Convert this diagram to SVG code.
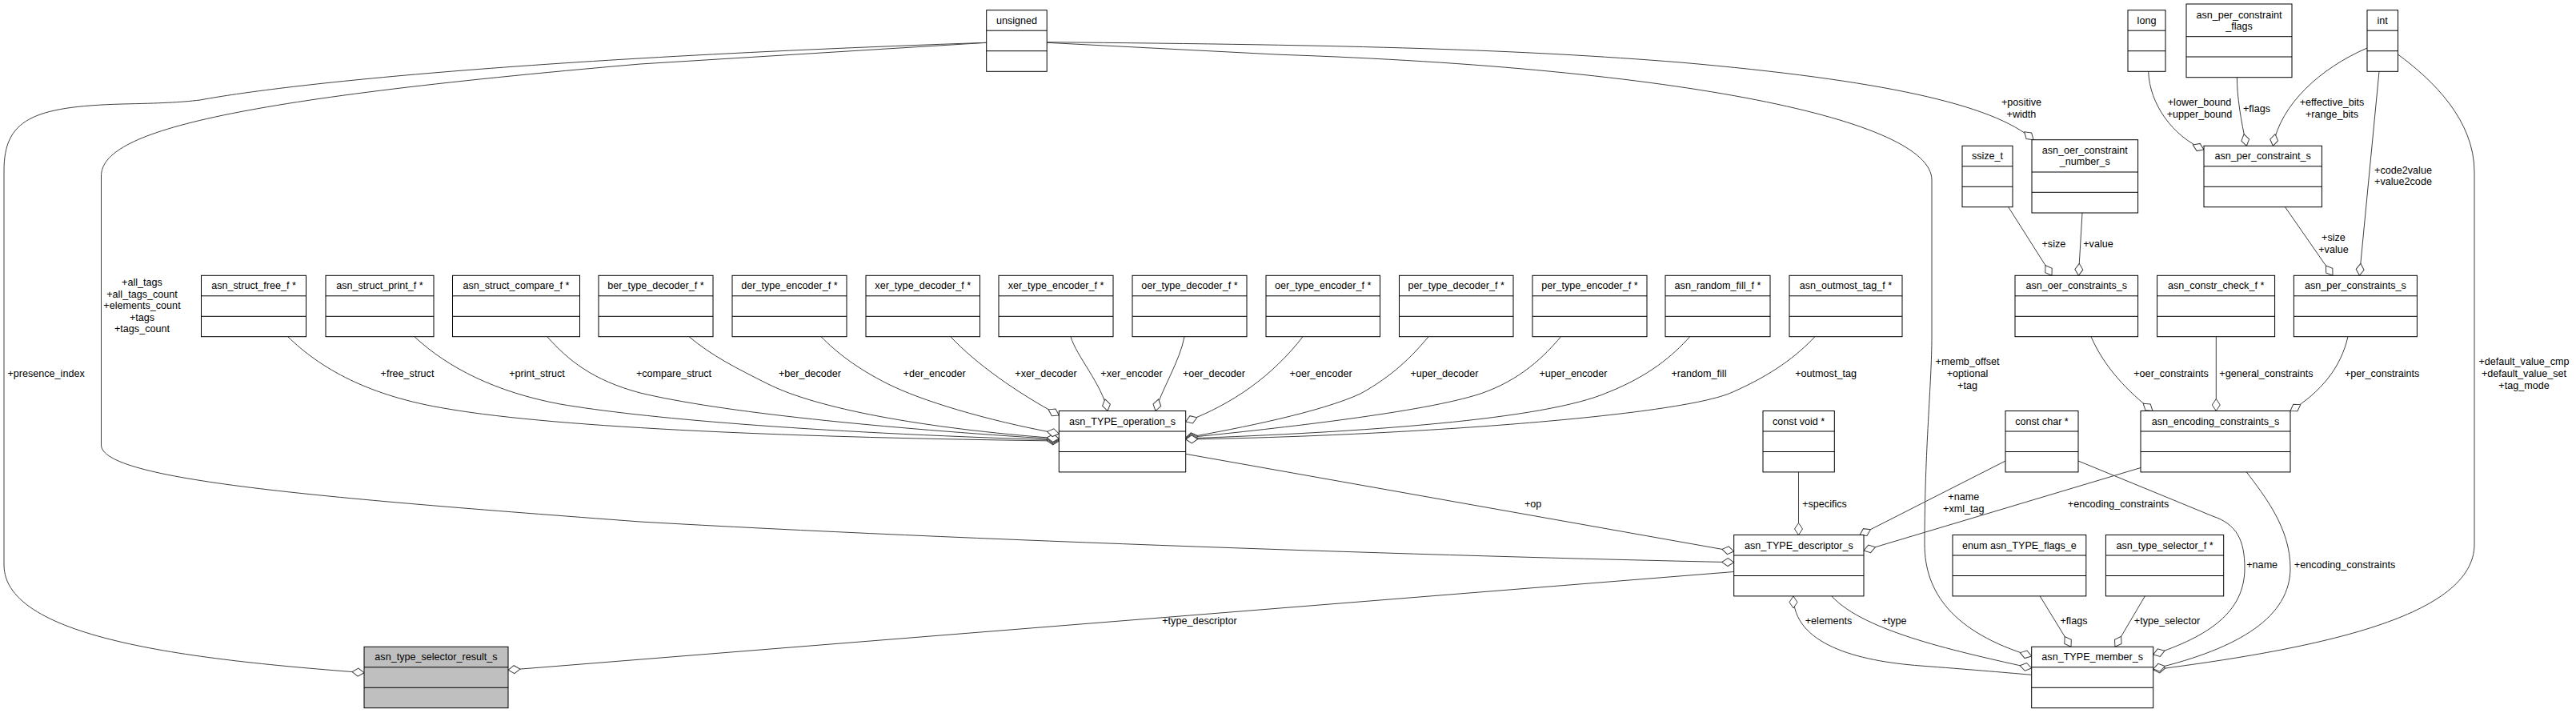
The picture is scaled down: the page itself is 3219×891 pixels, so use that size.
<svg xmlns="http://www.w3.org/2000/svg" width="3219" height="891" viewBox="0 0 3219 891">
<style>
text{font-family:"Liberation Sans",Arial,Helvetica,sans-serif;font-size:12.6px;text-anchor:middle;fill:#000}
.n rect{fill:#fff;stroke:#000;stroke-width:1}
.n line{stroke:#000;stroke-width:1}
.n.hl rect{fill:#bfbfbf}
.e path{fill:none;stroke:#404040;stroke-width:1;marker-start:url(#od)}
</style>
<defs>
<marker id="od" viewBox="-1 -6 17 12" refX="0" refY="0" markerWidth="17" markerHeight="12" markerUnits="userSpaceOnUse" orient="auto">
<path d="M0,0 L7.5,-5 L15,0 L7.5,5 Z" fill="#fff" stroke="#404040" stroke-width="1"/>
</marker>
</defs>
<rect x="0" y="0" width="3219" height="891" fill="#fff"/>

<g id="connectors" class="e">
<path d="M455,840.7 C250,825 5,800 5,706 L5,213 C5,150 40,133 153,130 C200,129 225,128 250,125 C330,110 600,75 1232.7,53.3"/>
<path d="M2166.7,702.7 C1800,695 1200,675 800,652 C400,622 126.5,600 126.5,556 L126.5,220 C126.5,165 280,125 800,80 L1232.7,53.3"/>
<path d="M2166.7,689 L1481.7,567.3"/>
<path d="M635,837.3 L2166.7,714.5"/>
<path d="M2247.5,668.5 L2247.5,590"/>
<path d="M2324,668.5 L2506,576"/>
<path d="M2329,688 L2675,584.5"/>
<path d="M2241,745 C2241,805 2320,826 2400,832 C2460,836.5 2500,840 2538.7,843.3"/>
<path d="M2538.7,835 C2450,815 2330,790 2288.8,744.9"/>
<path d="M2538.7,820 C2440,790 2405,740 2405,680 C2405,560 2414,480 2414,420 L2414,225 C2414,150 2100,85 1600,68.3 L1308.2,53.3"/>
<path d="M2541,174.7 C2490,130 2350,100 2100,78 C1900,62 1700,56 1308.2,52.7"/>
<path d="M2564,344.3 L2509.7,258.7"/>
<path d="M2597.4,344.3 L2602,266"/>
<path d="M2754,187 C2715,170 2686,130 2684.7,89.3"/>
<path d="M2807.4,182.3 C2800,150 2795.4,120 2795.4,96.7"/>
<path d="M2840.3,182.3 C2850,130 2900,85 2958,60"/>
<path d="M2915,344.3 L2855.5,258.7"/>
<path d="M2948.4,344.3 L2973,89.3"/>
<path d="M2690.7,837 C2900,810 3092,770 3092,680 L3092,215 C3092,150 3040,100 2996.5,68"/>
<path d="M2690,513.5 C2660,490 2630,460 2613,420.7"/>
<path d="M2769.3,513.5 L2769.3,420.7"/>
<path d="M2862,513.5 C2900,490 2925,460 2934,420.7"/>
<path d="M2690.7,818 C2760,795 2805,765 2805,710 C2805,675 2795,655 2765,645 L2597,576"/>
<path d="M2690.7,836 C2800,810 2862,770 2862,710 C2862,660 2830,620 2807.4,590"/>
<path d="M2588,808.3 L2549,744.7"/>
<path d="M2643,808.3 L2680.5,744.7"/>
<path d="M1323.3,551 C1000,547 700,535 560,511 C460,495 400,460 359.7,420.7"/>
<path d="M1323.3,550 C1000,540 800,522 700,505 C620,490 560,460 517.9,420.7"/>
<path d="M1323.3,549 C1100,535 900,515 800,491 C740,475 710,450 683.7,420.7"/>
<path d="M1323.3,548 C1150,535 1020,510 960,480 C920,460 890,445 861,420.7"/>
<path d="M1323.3,542 C1230,525 1150,500 1110,480 C1070,460 1045,440 1026,420.7"/>
<path d="M1323.3,519 C1270,490 1220,455 1187.8,420.7"/>
<path d="M1384,513.5 C1377,480 1345,445 1338,420.7"/>
<path d="M1444,513.5 C1450,490 1475,450 1480,420.7"/>
<path d="M1481.7,527 C1540,505 1590,470 1628,420.7"/>
<path d="M1481.7,547 C1550,535 1650,515 1700,492 C1740,470 1765,445 1785,420.7"/>
<path d="M1481.7,547 C1600,535 1780,515 1850,492 C1900,475 1930,445 1950.5,420.7"/>
<path d="M1481.7,548 C1700,540 1930,525 2010,490 C2060,470 2090,445 2111.7,420.7"/>
<path d="M1481.7,549 C1750,545 2100,520 2165,490 C2215,468 2245,445 2268,420.7"/>
<text x="57.6" y="471">+presence_index</text>
<text x="177.5" y="357">+all_tags</text>
<text x="177.5" y="371.6">+all_tags_count</text>
<text x="177.5" y="386.2">+elements_count</text>
<text x="177.5" y="400.8">+tags</text>
<text x="177.5" y="415.4">+tags_count</text>
<text x="509" y="471">+free_struct</text>
<text x="671" y="471">+print_struct</text>
<text x="842" y="471">+compare_struct</text>
<text x="1012" y="471">+ber_decoder</text>
<text x="1167.6" y="471">+der_encoder</text>
<text x="1307" y="471">+xer_decoder</text>
<text x="1414" y="471">+xer_encoder</text>
<text x="1517" y="471">+oer_decoder</text>
<text x="1650.6" y="471">+oer_encoder</text>
<text x="1805" y="471">+uper_decoder</text>
<text x="1966" y="471">+uper_encoder</text>
<text x="2123" y="471">+random_fill</text>
<text x="2281.6" y="471">+outmost_tag</text>
<text x="1915.6" y="633.5">+op</text>
<text x="2280" y="633.5">+specifics</text>
<text x="1499" y="780">+type_descriptor</text>
<text x="2285" y="780">+elements</text>
<text x="2367" y="780">+type</text>
<text x="2526" y="132">+positive</text>
<text x="2526" y="146.6">+width</text>
<text x="2748.5" y="132">+lower_bound</text>
<text x="2748.5" y="146.6">+upper_bound</text>
<text x="2820" y="139.5">+flags</text>
<text x="2914" y="132">+effective_bits</text>
<text x="2914" y="146.6">+range_bits</text>
<text x="3003" y="216.7">+code2value</text>
<text x="3003" y="231.3">+value2code</text>
<text x="2566.4" y="308.7">+size</text>
<text x="2622" y="308.7">+value</text>
<text x="2916" y="301">+size</text>
<text x="2916" y="316">+value</text>
<text x="2458.5" y="456">+memb_offset</text>
<text x="2458.5" y="471">+optional</text>
<text x="2458.5" y="486">+tag</text>
<text x="2713" y="471">+oer_constraints</text>
<text x="2832" y="471">+general_constraints</text>
<text x="2976.7" y="471">+per_constraints</text>
<text x="3154" y="456">+default_value_cmp</text>
<text x="3154" y="471">+default_value_set</text>
<text x="3154" y="486">+tag_mode</text>
<text x="2453.8" y="625.4">+name</text>
<text x="2453.8" y="640">+xml_tag</text>
<text x="2647" y="633.5">+encoding_constraints</text>
<text x="2826.7" y="710.4">+name</text>
<text x="2930" y="710.4">+encoding_constraints</text>
<text x="2591.5" y="780">+flags</text>
<text x="2708" y="780">+type_selector</text>
</g>

<g id="n_unsigned" class="n"><rect x="1232.7" y="12.7" width="75.5" height="76.6"/><line x1="1232.7" y1="38.2" x2="1308.2" y2="38.2"/><line x1="1232.7" y1="63.7" x2="1308.2" y2="63.7"/><text x="1270.5" y="29.8">unsigned</text></g>
<g id="n_long" class="n"><rect x="2659" y="12.7" width="47" height="76.6"/><line x1="2659" y1="38.2" x2="2706" y2="38.2"/><line x1="2659" y1="63.7" x2="2706" y2="63.7"/><text x="2682.5" y="29.8">long</text></g>
<g id="n_per_constraint_flags" class="n"><rect x="2732" y="5" width="132" height="91.7"/><line x1="2732" y1="45.7" x2="2864" y2="45.7"/><line x1="2732" y1="71" x2="2864" y2="71"/><text x="2798" y="22.8">asn_per_constraint</text><text x="2798" y="37.4">_flags</text></g>
<g id="n_int" class="n"><rect x="2958" y="12.7" width="38.5" height="76.6"/><line x1="2958" y1="38.2" x2="2996.5" y2="38.2"/><line x1="2958" y1="63.7" x2="2996.5" y2="63.7"/><text x="2977.2" y="29.8">int</text></g>
<g id="n_ssize_t" class="n"><rect x="2452" y="182.3" width="63" height="76.4"/><line x1="2452" y1="207.8" x2="2515" y2="207.8"/><line x1="2452" y1="233.3" x2="2515" y2="233.3"/><text x="2483.5" y="199.4">ssize_t</text></g>
<g id="n_oer_constraint_number_s" class="n"><rect x="2539" y="174.7" width="132.6" height="91.3"/><line x1="2539" y1="215" x2="2671.6" y2="215"/><line x1="2539" y1="240.3" x2="2671.6" y2="240.3"/><text x="2605.3" y="191.8">asn_oer_constraint</text><text x="2605.3" y="206.3">_number_s</text></g>
<g id="n_per_constraint_s" class="n"><rect x="2754" y="182.3" width="147.4" height="76.4"/><line x1="2754" y1="207.8" x2="2901.4" y2="207.8"/><line x1="2754" y1="233.3" x2="2901.4" y2="233.3"/><text x="2827.7" y="199.4">asn_per_constraint_s</text></g>

<g id="n_struct_free" class="n"><rect x="251.5" y="344.3" width="131" height="76.4"/><line x1="251.5" y1="369.8" x2="382.5" y2="369.8"/><line x1="251.5" y1="395.3" x2="382.5" y2="395.3"/><text x="317" y="361.4">asn_struct_free_f *</text></g>
<g id="n_struct_print" class="n"><rect x="407" y="344.3" width="135" height="76.4"/><line x1="407" y1="369.8" x2="542" y2="369.8"/><line x1="407" y1="395.3" x2="542" y2="395.3"/><text x="474.5" y="361.4">asn_struct_print_f *</text></g>
<g id="n_struct_compare" class="n"><rect x="565.5" y="344.3" width="159" height="76.4"/><line x1="565.5" y1="369.8" x2="724.5" y2="369.8"/><line x1="565.5" y1="395.3" x2="724.5" y2="395.3"/><text x="645" y="361.4">asn_struct_compare_f *</text></g>
<g id="n_ber_decoder" class="n"><rect x="748" y="344.3" width="143" height="76.4"/><line x1="748" y1="369.8" x2="891" y2="369.8"/><line x1="748" y1="395.3" x2="891" y2="395.3"/><text x="819.5" y="361.4">ber_type_decoder_f *</text></g>
<g id="n_der_encoder" class="n"><rect x="915" y="344.3" width="143" height="76.4"/><line x1="915" y1="369.8" x2="1058" y2="369.8"/><line x1="915" y1="395.3" x2="1058" y2="395.3"/><text x="986.5" y="361.4">der_type_encoder_f *</text></g>
<g id="n_xer_decoder" class="n"><rect x="1082" y="344.3" width="142.5" height="76.4"/><line x1="1082" y1="369.8" x2="1224.5" y2="369.8"/><line x1="1082" y1="395.3" x2="1224.5" y2="395.3"/><text x="1153.2" y="361.4">xer_type_decoder_f *</text></g>
<g id="n_xer_encoder" class="n"><rect x="1248" y="344.3" width="143" height="76.4"/><line x1="1248" y1="369.8" x2="1391" y2="369.8"/><line x1="1248" y1="395.3" x2="1391" y2="395.3"/><text x="1319.5" y="361.4">xer_type_encoder_f *</text></g>
<g id="n_oer_decoder" class="n"><rect x="1415" y="344.3" width="143" height="76.4"/><line x1="1415" y1="369.8" x2="1558" y2="369.8"/><line x1="1415" y1="395.3" x2="1558" y2="395.3"/><text x="1486.5" y="361.4">oer_type_decoder_f *</text></g>
<g id="n_oer_encoder" class="n"><rect x="1582" y="344.3" width="142.5" height="76.4"/><line x1="1582" y1="369.8" x2="1724.5" y2="369.8"/><line x1="1582" y1="395.3" x2="1724.5" y2="395.3"/><text x="1653.2" y="361.4">oer_type_encoder_f *</text></g>
<g id="n_per_decoder" class="n"><rect x="1748.5" y="344.3" width="142.5" height="76.4"/><line x1="1748.5" y1="369.8" x2="1891" y2="369.8"/><line x1="1748.5" y1="395.3" x2="1891" y2="395.3"/><text x="1819.7" y="361.4">per_type_decoder_f *</text></g>
<g id="n_per_encoder" class="n"><rect x="1915" y="344.3" width="143" height="76.4"/><line x1="1915" y1="369.8" x2="2058" y2="369.8"/><line x1="1915" y1="395.3" x2="2058" y2="395.3"/><text x="1986.5" y="361.4">per_type_encoder_f *</text></g>
<g id="n_random_fill" class="n"><rect x="2081" y="344.3" width="131" height="76.4"/><line x1="2081" y1="369.8" x2="2212" y2="369.8"/><line x1="2081" y1="395.3" x2="2212" y2="395.3"/><text x="2146.5" y="361.4">asn_random_fill_f *</text></g>
<g id="n_outmost_tag" class="n"><rect x="2236" y="344.3" width="141" height="76.4"/><line x1="2236" y1="369.8" x2="2377" y2="369.8"/><line x1="2236" y1="395.3" x2="2377" y2="395.3"/><text x="2306.5" y="361.4">asn_outmost_tag_f *</text></g>
<g id="n_oer_constraints_s" class="n"><rect x="2518" y="344.3" width="153.6" height="76.4"/><line x1="2518" y1="369.8" x2="2671.6" y2="369.8"/><line x1="2518" y1="395.3" x2="2671.6" y2="395.3"/><text x="2594.8" y="361.4">asn_oer_constraints_s</text></g>
<g id="n_constr_check" class="n"><rect x="2695.6" y="344.3" width="147" height="76.4"/><line x1="2695.6" y1="369.8" x2="2842.6" y2="369.8"/><line x1="2695.6" y1="395.3" x2="2842.6" y2="395.3"/><text x="2769.1" y="361.4">asn_constr_check_f *</text></g>
<g id="n_per_constraints_s" class="n"><rect x="2866.4" y="344.3" width="154" height="76.4"/><line x1="2866.4" y1="369.8" x2="3020.4" y2="369.8"/><line x1="2866.4" y1="395.3" x2="3020.4" y2="395.3"/><text x="2943.4" y="361.4">asn_per_constraints_s</text></g>

<g id="n_operation" class="n"><rect x="1323.3" y="513.5" width="158.4" height="76.4"/><line x1="1323.3" y1="539" x2="1481.7" y2="539"/><line x1="1323.3" y1="564.5" x2="1481.7" y2="564.5"/><text x="1402.5" y="530.6">asn_TYPE_operation_s</text></g>
<g id="n_const_void" class="n"><rect x="2203" y="513.5" width="89.3" height="76.4"/><line x1="2203" y1="539" x2="2292.3" y2="539"/><line x1="2203" y1="564.5" x2="2292.3" y2="564.5"/><text x="2247.6" y="530.6">const void *</text></g>
<g id="n_const_char" class="n"><rect x="2506" y="513.5" width="91" height="76.4"/><line x1="2506" y1="539" x2="2597" y2="539"/><line x1="2506" y1="564.5" x2="2597" y2="564.5"/><text x="2551.5" y="530.6">const char *</text></g>
<g id="n_encoding_constraints" class="n"><rect x="2675" y="513.5" width="187" height="76.4"/><line x1="2675" y1="539" x2="2862" y2="539"/><line x1="2675" y1="564.5" x2="2862" y2="564.5"/><text x="2768.5" y="530.6">asn_encoding_constraints_s</text></g>

<g id="n_descriptor" class="n"><rect x="2166.7" y="668.5" width="162.3" height="76.4"/><line x1="2166.7" y1="694" x2="2329" y2="694"/><line x1="2166.7" y1="719.5" x2="2329" y2="719.5"/><text x="2247.8" y="685.6">asn_TYPE_descriptor_s</text></g>
<g id="n_flags_e" class="n"><rect x="2440" y="668.5" width="166.8" height="76.4"/><line x1="2440" y1="694" x2="2606.8" y2="694"/><line x1="2440" y1="719.5" x2="2606.8" y2="719.5"/><text x="2523.4" y="685.6">enum asn_TYPE_flags_e</text></g>
<g id="n_type_selector_f" class="n"><rect x="2631.4" y="668.5" width="147.3" height="76.4"/><line x1="2631.4" y1="694" x2="2778.7" y2="694"/><line x1="2631.4" y1="719.5" x2="2778.7" y2="719.5"/><text x="2705" y="685.6">asn_type_selector_f *</text></g>

<g id="n_type_selector_result" class="n hl"><rect x="455" y="808.3" width="180" height="76.4"/><line x1="455" y1="833.8" x2="635" y2="833.8"/><line x1="455" y1="859.3" x2="635" y2="859.3"/><text x="545" y="825.4">asn_type_selector_result_s</text></g>
<g id="n_member" class="n"><rect x="2538.7" y="808.3" width="152" height="76.4"/><line x1="2538.7" y1="833.8" x2="2690.7" y2="833.8"/><line x1="2538.7" y1="859.3" x2="2690.7" y2="859.3"/><text x="2614.7" y="825.4">asn_TYPE_member_s</text></g>
</svg>
